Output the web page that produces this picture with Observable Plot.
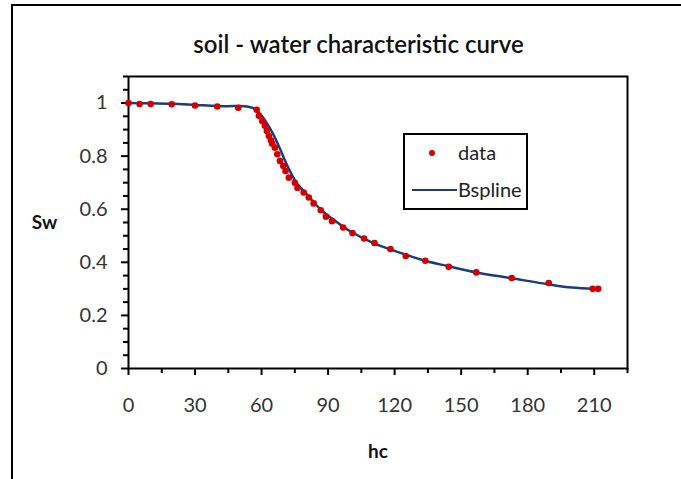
<!DOCTYPE html>
<html>
<head>
<meta charset="utf-8">
<script src="https://cdn.jsdelivr.net/npm/d3@7"></script>
<script src="https://cdn.jsdelivr.net/npm/@observablehq/plot@0.6"></script>
<style>
  html, body { margin: 0; padding: 0; background: #fff; width: 681px; height: 479px; overflow: hidden; }
  body { position: relative; font-family: Lato, "Open Sans", sans-serif; }
  #frame { position: absolute; left: 11px; top: 4px; width: 720px; height: 520px; border: 2.5px solid #000; pointer-events: none; }
  #title { position: relative; height: 60px; width: 681px; box-sizing: border-box; padding-left: 36px; text-align: center; font-size: 24px; font-weight: 600; line-height: 30px; padding-top: 29px; color: #111; overflow: visible; }
  #title span { position: relative; top: 0px; }
  #chart { position: relative; }
  #legend { position: absolute; left: 403px; top: 133px; width: 125px; height: 77px; box-sizing: border-box; border: 2px solid #000; background: #fff; font-size: 20px; color: #222; }
  #legend .dot { position: absolute; left: 24px; top: 15px; width: 6px; height: 6px; border-radius: 50%; background: #d40000; }
  #legend .lbl { position: absolute; line-height: 20px; }
  #legend .ln { position: absolute; left: 7px; top: 54px; width: 45px; height: 2px; background: #1c3d7c; }
</style>
</head>
<body>
<div id="title"><span>soil - water characteristic curve</span></div>
<div id="chart"></div>
<div id="legend">
  <div class="dot"></div><div class="lbl" style="left:53px;top:7px">data</div>
  <div class="ln"></div><div class="lbl" style="left:53px;top:44px">Bspline</div>
</div>
<div id="frame"></div>
<script>
// measured data points (hc, Sw)
const hcData = [0, 5, 10, 19.5, 30, 40, 49.5, 57.8, 58.8, 60.3, 61.5, 62.4, 63.3, 64.2, 64.8, 66, 67.1, 68.3, 69.8, 70.8, 72.3, 75, 76.2, 79, 81.3, 83.5, 86.7, 89, 91.8, 96.8, 101, 106.2, 110.9, 118.1, 125, 133.8, 144.4, 156.8, 172.8, 189.5, 209.3, 211.8];
const swData = [1.0, 0.996, 0.996, 0.995, 0.991, 0.987, 0.982, 0.975, 0.952, 0.932, 0.914, 0.895, 0.876, 0.86, 0.847, 0.832, 0.807, 0.782, 0.763, 0.744, 0.719, 0.70, 0.68, 0.663, 0.644, 0.622, 0.596, 0.572, 0.555, 0.531, 0.51, 0.49, 0.473, 0.45, 0.424, 0.406, 0.383, 0.362, 0.341, 0.322, 0.300, 0.300];

// B-spline curve
const hcSpline = [0, 10, 20, 30, 40, 45, 50, 54, 57, 59, 61.8, 65.3, 68.7, 72, 75.5, 80.3, 87, 92.3, 100, 110, 120, 133.8, 144.4, 156.8, 172.8, 189.5, 200, 210];
const swSpline = [1.0, 0.999, 0.997, 0.993, 0.989, 0.988, 0.989, 0.986, 0.978, 0.962, 0.932, 0.882, 0.82, 0.757, 0.703, 0.657, 0.596, 0.562, 0.517, 0.474, 0.443, 0.406, 0.385, 0.362, 0.340, 0.317, 0.305, 0.300];

const xMajorTicks = [0, 30, 60, 90, 120, 150, 180, 210];
const xMinorTicks = [15, 45, 75, 105, 135, 165, 195, 225];
const yMajorTicks = [0, 0.2, 0.4, 0.6, 0.8, 1.0];
const yMinorTicks = [0.05, 0.1, 0.15, 0.25, 0.3, 0.35, 0.45, 0.5, 0.55, 0.65, 0.7, 0.75, 0.85, 0.9, 0.95, 1.05, 1.1];

const points = hcData.map((h, i) => ({hc: h, sw: swData[i]}));
const spline = hcSpline.map((h, i) => ({hc: h, sw: swSpline[i]}));

const chart = Plot.plot({
  width: 681,
  height: 419,
  marginLeft: 128,
  marginRight: 54,
  marginTop: 16,
  marginBottom: 111,
  x: {domain: [0, 225]},
  y: {domain: [0, 1.1]},
  style: {fontFamily: "Lato, 'Open Sans', sans-serif", fontSize: "20px", background: "transparent", color: "#000", overflow: "visible"},
  marks: [
    Plot.axisX(xMinorTicks, {tickSize: 5, strokeWidth: 2, stroke: "#000", fill: "none", label: null}),
    Plot.axisX(xMajorTicks, {tickSize: 7, strokeWidth: 2, stroke: "#000", fill: "#333", tickPadding: 22, label: null}),
    Plot.axisY(yMinorTicks, {tickSize: 5, strokeWidth: 2, stroke: "#000", fill: "none", label: null}),
    Plot.axisY(yMajorTicks, {tickSize: 7, strokeWidth: 2, stroke: "#000", fill: "#333", tickPadding: 14, label: null, tickFormat: d => String(+d.toFixed(1))}),
    Plot.frame({stroke: "#000", strokeWidth: 2}),
    Plot.line(spline, {x: "hc", y: "sw", curve: "catmull-rom", stroke: "#1c3d7c", strokeWidth: 2.5}),
    Plot.dot(points, {x: "hc", y: "sw", r: 3.3, fill: "#d40000", stroke: "none"}),
    Plot.text(["Sw"], {frameAnchor: "left", dx: -84, textAnchor: "middle", text: d => d, fontWeight: "bold", fontSize: 19, fill: "#111"}),
    Plot.text(["hc"], {frameAnchor: "bottom", dy: 89, textAnchor: "middle", text: d => d, fontWeight: "bold", fontSize: 19, fill: "#111"})
  ]
});
document.getElementById("chart").appendChild(chart);
</script>
</body>
</html>
